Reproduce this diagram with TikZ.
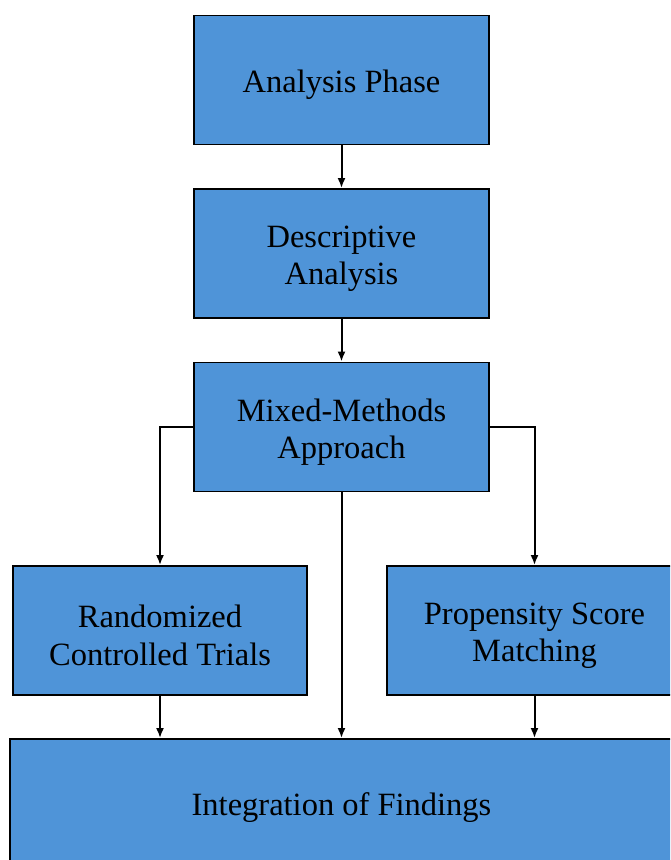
\documentclass[tikz,border=0pt]{standalone}
\usepackage{fontspec}
\setmainfont{Liberation Serif}
\usetikzlibrary{arrows.meta}

\definecolor{boxblue}{RGB}{79,148,216}

\begin{document}
\begin{tikzpicture}
[x=1pt,y=1pt,%
  box/.style={shape=rectangle,draw,fill=boxblue,line width=1.8pt,inner sep=0pt,%
    minimum width=295pt,minimum height=129pt,%
    label={[boxtext]center:#1}},%
  boxtext/.style={align=center,yshift=-5pt,inner sep=0pt,%
    font=\fontsize{32.5}{37.5}\selectfont},%
  link/.style={-{Latex[length=10pt,width=8pt]},line width=2pt}]
\useasboundingbox (0,0) rectangle (670,-860);
\clip (0,0) rectangle (670,-860);
\node[box={Analysis Phase}] (phase) at (341.5,-80) {};
\node[box={Descriptive\\Analysis}] (desc) at (341.5,-253.5) {};
\node[box={Mixed-Methods\\Approach}] (mixed) at (341.5,-427) {};
\node[box={Randomized\\Controlled Trials},minimum width=294pt] (rct) at (160,-630.5) {};
\node[box={Propensity Score\\Matching}] (psm) at (534.5,-630.5) {};
\node[box={Integration of Findings},minimum width=663pt,minimum height=128pt] (integ) at (341.5,-803) {};
\path[link]
(phase) edge (desc)
(desc) edge (mixed)
(mixed) edge (integ);
\draw[link] (mixed.west) -| (rct.north);
\draw[link] (mixed.east) -| (psm.north);
\draw[link] (rct.south) -- (rct.south |- integ.north);
\draw[link] (psm.south) -- (psm.south |- integ.north);
\end{tikzpicture}
\end{document}
